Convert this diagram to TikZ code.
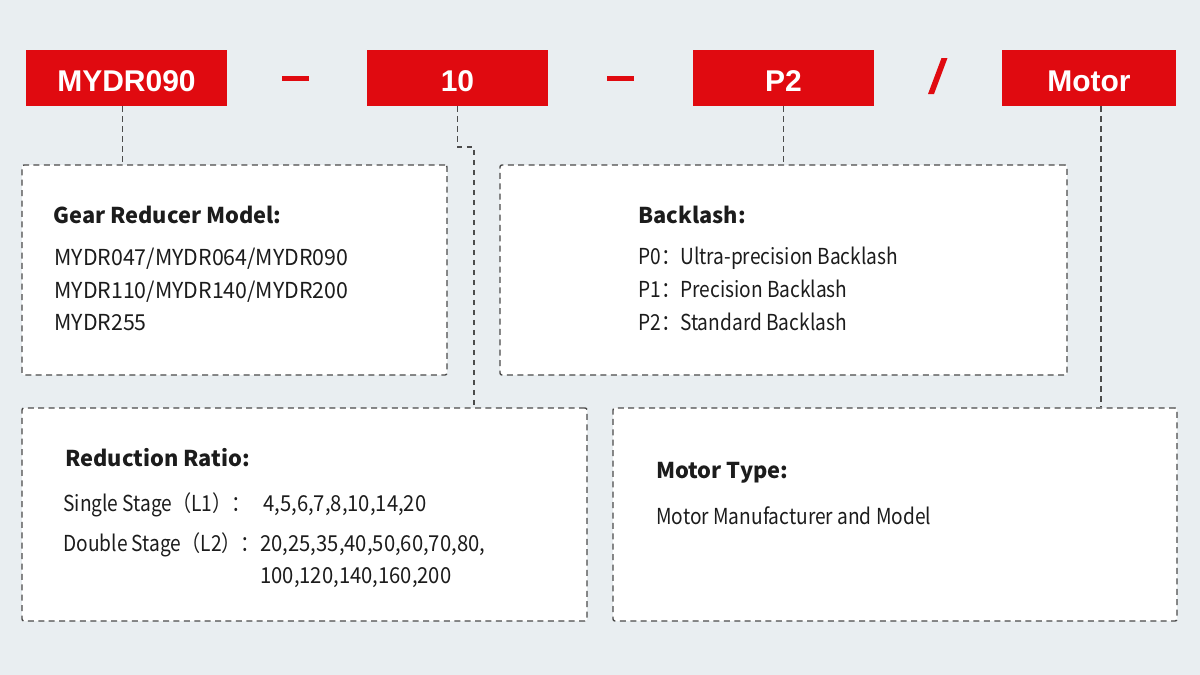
\documentclass[tikz,border=0pt]{standalone}
\usepackage{fontspec}
\setmainfont{Noto Sans CJK SC}
\newfontfamily\bodyfont{Noto Sans CJK SC}[FakeStretch=0.87]
\newfontfamily\bodymid{Noto Sans CJK SC}[FakeStretch=0.92]
\newfontfamily\bodywide{Noto Sans CJK SC}[FakeStretch=0.97]
\newfontfamily\redfont{Liberation Sans}
\definecolor{bgcol}{RGB}{233,238,241}
\definecolor{redc}{RGB}{224,10,16}
\definecolor{dashc}{RGB}{75,75,75}
\definecolor{txtc}{RGB}{28,28,28}
\tikzset{
  redbox/.style={fill=redc, text=white, font=\redfont\bfseries\fontsize{15}{18}\selectfont, minimum height=28pt, inner sep=0pt, text height=13.5pt, text depth=0pt},
  infobox/.style={draw=dashc, fill=white, line width=0.7pt, dash pattern=on 3pt off 2.2pt, rounded corners=1pt, inner sep=0pt},
  conn/.style={draw=dashc, line width=0.65pt, dash pattern=on 2.6pt off 2.4pt},
  hdr/.style={anchor=base west, inner sep=0pt, text=txtc, font=\bfseries\fontsize{10.9}{13}\selectfont},
  body/.style={anchor=base west, inner sep=0pt, text=txtc, font=\bodyfont\fontsize{11}{13}\selectfont},
  bodym/.style={anchor=base west, inner sep=0pt, text=txtc, font=\bodymid\fontsize{11}{13}\selectfont},
  bodyw/.style={anchor=base west, inner sep=0pt, text=txtc, font=\bodywide\fontsize{11}{13}\selectfont},
}
\begin{document}
\begin{tikzpicture}[x=0.5pt, y=-0.5pt]
\fill[bgcol] (0,0) rectangle (1200,675);
\useasboundingbox (0,0) rectangle (1200,675);

% red code boxes
\node[redbox, minimum width=100.5pt] (m) at (126.5,78) {MYDR090};
\node[redbox, minimum width=90.5pt] (t) at (457.5,78) {10};
\node[redbox, minimum width=90.5pt] (p) at (783.5,78) {P2};
\node[redbox, minimum width=87pt] (mo) at (1089,78) {Motor};

% separators
\fill[redc] (282,76) rectangle (309,80.5);
\fill[redc] (607,76) rectangle (634,80.5);
\fill[redc] (941.5,58) -- (947.5,58) -- (934,94) -- (928,94) -- cycle;

% info boxes
\node[infobox, minimum width=212.5pt, minimum height=105pt] (b1) at (234.5,270) {};
\node[infobox, minimum width=283.5pt, minimum height=105pt] (b2) at (783.5,270) {};
\node[infobox, minimum width=282.5pt, minimum height=106.5pt] (b3) at (304.5,514.5) {};
\node[infobox, minimum width=282pt, minimum height=106.5pt] (b4) at (895,514.5) {};

% connectors
\coordinate (mc) at ([xshift=-2pt]m.south);
\draw[conn] (mc) -- (mc |- b1.north);
\draw[conn] (p.south) -- (p.south |- b2.north);
\coordinate (k1) at (457.5,147);
\coordinate (k2) at (474,147);
\draw[conn] (t.south) -- (k1) -- (k2) -- (k2 |- b3.north);
\coordinate (moc) at ([xshift=6pt]mo.south);
\draw[conn] (moc) -- (moc |- b4.north);

% box 1 text
\node[hdr] (h1) at (53,223) {Gear Reducer Model:};
\node[bodyw] (l11) at (54,265) {MYDR047/MYDR064/MYDR090};
\node[bodyw] (l12) at (54,298) {MYDR110/MYDR140/MYDR200};
\node[bodyw] (l13) at (54,330) {MYDR255};

% box 2 text
\node[hdr] (h2) at (638,223) {Backlash:};
\node[body] (l21) at (638,264) {P0：Ultra-precision Backlash};
\node[body] (l22) at (638,297) {P1：Precision Backlash};
\node[body] (l23) at (638,330) {P2：Standard Backlash};

% box 3 text
\node[hdr] (h3) at (65,466) {Reduction Ratio:};
\node[body] (l31) at (63,511) {Single Stage（L1）：};
\node[bodym] (v31) at (263,511) {4,5,6,7,8,10,14,20};
\node[body] (l32) at (63,551) {Double Stage（L2）：};
\node[bodym] (v32) at (260,551) {20,25,35,40,50,60,70,80,};
\node[bodym] (v33) at (260,583) {100,120,140,160,200};

% box 4 text
\node[hdr] (h4) at (656,478) {Motor Type:};
\node[body] (l41) at (656,524) {Motor Manufacturer and Model};
\end{tikzpicture}
\end{document}
